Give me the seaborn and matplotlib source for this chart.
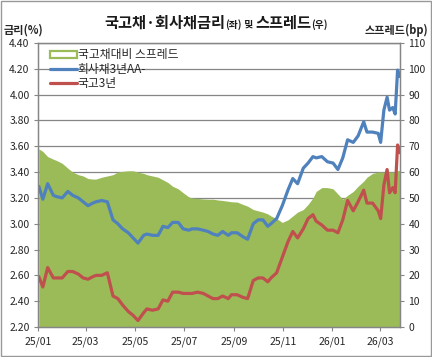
import pandas as pd
import matplotlib
matplotlib.use("Agg")
import matplotlib.pyplot as plt
import matplotlib.dates as mdates
from matplotlib.patches import Patch, Rectangle
from matplotlib.lines import Line2D
import seaborn as sns

dates = [
    "2025-01-02", "2025-01-07", "2025-01-13", "2025-01-20", "2025-01-24", "2025-01-31",
    "2025-02-07", "2025-02-13", "2025-02-20", "2025-02-26", "2025-03-04", "2025-03-10",
    "2025-03-14", "2025-03-21", "2025-03-28", "2025-04-04", "2025-04-10", "2025-04-16",
    "2025-04-23", "2025-04-29", "2025-05-05", "2025-05-12", "2025-05-16", "2025-05-23",
    "2025-05-30", "2025-06-05", "2025-06-11", "2025-06-17", "2025-06-24", "2025-06-30",
    "2025-07-07", "2025-07-11", "2025-07-18", "2025-07-25", "2025-07-31", "2025-08-06",
    "2025-08-12", "2025-08-18", "2025-08-25", "2025-08-29", "2025-09-05", "2025-09-12",
    "2025-09-18", "2025-09-25", "2025-10-01", "2025-10-07", "2025-10-13", "2025-10-17",
    "2025-10-24", "2025-10-31", "2025-11-07", "2025-11-13", "2025-11-19", "2025-11-26",
    "2025-12-02", "2025-12-08", "2025-12-12", "2025-12-19", "2025-12-26", "2026-01-02",
    "2026-01-08", "2026-01-14", "2026-01-20", "2026-01-27", "2026-02-02", "2026-02-09",
    "2026-02-13", "2026-02-20", "2026-02-27", "2026-03-02", "2026-03-06", "2026-03-10",
    "2026-03-13", "2026-03-17", "2026-03-20", "2026-03-23", "2026-03-26",
]

corp_3y = [
    3.29, 3.19, 3.31, 3.22, 3.21, 3.20, 3.25, 3.22, 3.20, 3.17, 3.14, 3.16,
    3.17, 3.18, 3.17, 3.03, 3.00, 2.96, 2.93, 2.89, 2.85, 2.91, 2.92, 2.91,
    2.91, 2.98, 2.97, 3.01, 3.01, 2.96, 2.95, 2.96, 2.96, 2.95, 2.94, 2.92,
    2.91, 2.94, 2.91, 2.93, 2.93, 2.90, 2.88, 3.00, 3.03, 3.03, 2.98, 3.00,
    3.04, 3.14, 3.26, 3.35, 3.31, 3.43, 3.47, 3.52, 3.51, 3.52, 3.48, 3.47,
    3.42, 3.51, 3.65, 3.63, 3.68, 3.79, 3.71, 3.71, 3.70, 3.63, 3.88, 3.98,
    3.88, 3.90, 3.85, 4.19, 4.14,
]

gov_3y = [
    2.59, 2.51, 2.66, 2.58, 2.58, 2.58, 2.63, 2.63, 2.61, 2.58, 2.57, 2.59,
    2.60, 2.60, 2.62, 2.44, 2.42, 2.37, 2.32, 2.29, 2.25, 2.31, 2.34, 2.33,
    2.34, 2.41, 2.40, 2.47, 2.47, 2.46, 2.46, 2.46, 2.47, 2.46, 2.44, 2.42,
    2.42, 2.44, 2.42, 2.45, 2.45, 2.43, 2.42, 2.56, 2.58, 2.58, 2.55, 2.58,
    2.62, 2.74, 2.86, 2.94, 2.89, 2.96, 3.04, 3.07, 3.02, 2.99, 2.95, 2.95,
    2.93, 3.03, 3.18, 3.10, 3.17, 3.26, 3.16, 3.16, 3.10, 3.04, 3.30, 3.42,
    3.24, 3.28, 3.24, 3.61, 3.55,
]

spread_bp = [
    69.0, 68.0, 66.0, 65.0, 64.5, 63.4, 61.5, 60.0, 59.0, 58.5, 57.5, 57.3,
    57.3, 58.0, 58.5, 59.0, 60.0, 60.3, 60.5, 60.5, 60.0, 59.5, 59.0, 58.5,
    58.0, 57.0, 56.0, 54.5, 53.5, 52.0, 50.4, 50.0, 49.8, 49.6, 49.5, 49.5,
    49.2, 49.0, 48.7, 48.5, 48.4, 47.5, 46.8, 45.5, 45.0, 44.5, 43.8, 43.0,
    42.0, 40.5, 41.5, 43.0, 44.5, 45.5, 47.5, 50.0, 52.5, 54.0, 54.0, 53.5,
    51.5, 49.5, 51.0, 52.5, 54.5, 56.5, 58.0, 59.5, 60.0, 60.0, 60.0, 60.0,
    60.0, 60.0, 60.0, 60.5, 60.8,
]

df = pd.DataFrame({
    "date": pd.to_datetime(dates),
    "corp": corp_3y,
    "gov": gov_3y,
    "spread": spread_bp,
})

green = "#9BBB59"
blue = "#4F81BD"
red = "#C0504D"
grid_gray = "#868686"

sns.set_style("white")
plt.rcParams['font.family'] = ['Noto Sans CJK KR', 'DejaVu Sans']

fig = plt.figure(figsize=(4.32, 3.57), dpi=100)
ax2 = fig.add_axes([38 / 432, 1 - 327 / 357, 362 / 432, 284 / 357])
ax = ax2.twinx()

# area (right axis) drawn under the lines
ax2.fill_between(df["date"], 0, df["spread"], color=green, lw=0, zorder=2)
ax2.set_ylim(0, 110)
ax2.set_yticks(range(0, 111, 10))
ax2.yaxis.set_label_position("right")
ax2.yaxis.tick_right()
ax2.grid(axis="y", color=grid_gray, lw=0.9, zorder=1)
ax2.set_axisbelow(True)

sns.lineplot(data=df, x="date", y="corp", ax=ax, color=blue, lw=2.3)
sns.lineplot(data=df, x="date", y="gov", ax=ax, color=red, lw=2.3)
ax.set_ylim(2.2, 4.4)
ax.set_yticks([2.2 + 0.2 * i for i in range(12)])
ax.yaxis.set_label_position("left")
ax.yaxis.tick_left()
ax.set_yticklabels([f"{2.2 + 0.2 * i:.2f}" for i in range(12)])
ax.set_xlabel("")
ax.set_ylabel("")

ax2.set_xlim(pd.Timestamp("2025-01-01"), pd.Timestamp("2026-03-26"))
ax2.xaxis.set_major_locator(mdates.MonthLocator(bymonth=[1, 3, 5, 7, 9, 11]))
ax2.xaxis.set_major_formatter(mdates.DateFormatter("%y/%m"))
ax.set_xlim(ax2.get_xlim())

for a in (ax, ax2):
    for s in a.spines.values():
        s.set_color(grid_gray)
        s.set_linewidth(0.9)
ax.tick_params(axis="y", labelsize=7.5, length=3, color=grid_gray, pad=3)
ax2.tick_params(axis="y", labelsize=7.5, length=3, color=grid_gray, pad=3)
ax2.tick_params(axis="x", labelsize=7.5, length=3, color=grid_gray, pad=4, bottom=True)
ax.tick_params(axis="x", bottom=False, labelbottom=False)

handles = [
    Patch(facecolor="white", edgecolor=green, lw=1.6),
    Line2D([0], [0], color=blue, lw=2.3),
    Line2D([0], [0], color=red, lw=2.3),
]
labels = ["국고채대비 스프레드", "회사채3년AA-", "국고3년"]
ax.legend(handles, labels, loc="upper left", bbox_to_anchor=(0.01, 1.01),
          frameon=False, fontsize=8.5, handlelength=2.3, handleheight=0.6,
          handletextpad=0.05, labelspacing=0.12, borderaxespad=0.3)

# title pieces with mixed sizes
pieces = [("국고채·회사채금리", 11), ("(좌)", 7), (" 및 ", 7), ("스프레드", 11), ("(우)", 7)]
fig.canvas.draw()
renderer = fig.canvas.get_renderer()
texts = []
total = 0
for txt, size in pieces:
    t = fig.text(0, 1 - 28 / 357, txt, fontsize=size, fontweight="bold",
                 va="baseline", ha="left", color="#1a1a1a")
    w = t.get_window_extent(renderer).width
    texts.append((t, w))
    total += w
x0 = 216 - total / 2
for t, w in texts:
    t.set_x(x0 / 432)
    x0 += w

fig.text(4 / 432, 1 - 30 / 357, "금리(%)", fontsize=8, fontweight="bold", va="center", ha="left")
fig.text(428 / 432, 1 - 30 / 357, "스프레드(bp)", fontsize=8, fontweight="bold", va="center", ha="right")

fig.patches.append(Rectangle((0.002, 0.002), 0.996, 0.996, transform=fig.transFigure,
                             fill=False, edgecolor="#999999", lw=1))

fig.savefig("out.png", dpi=100)
